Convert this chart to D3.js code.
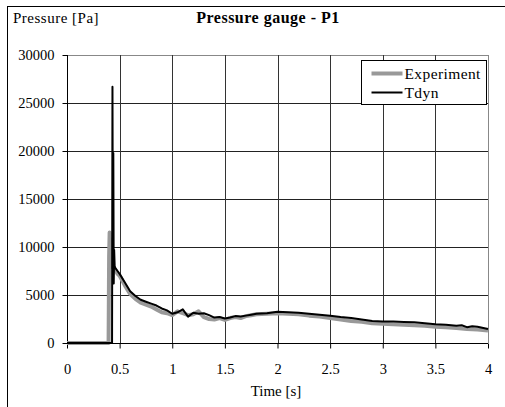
<!DOCTYPE html>
<html lang="en">
  <head>
    <meta charset="utf-8">
    <title>Pressure gauge - P1</title>
    <script type="text/javascript" src="https://cdn.jsdelivr.net/npm/d3@7/dist/d3.min.js"></script>
    <style>
      body { margin: 0; background: #fff; }
      text { font-family: 'Liberation Serif', 'Times New Roman', serif; fill: #000; }
    </style>
  </head>

  <body>
    <script>
      // tick values
      var xTicks = [0, 0.5, 1, 1.5, 2, 2.5, 3, 3.5, 4]
      var yTicks = [0, 5000, 10000, 15000, 20000, 25000, 30000]

      // Experiment series (time [s], pressure [Pa])
      var expTime = [0, 0.395, 0.4, 0.405, 0.41, 0.415, 0.42, 0.43, 0.44, 0.46, 0.48, 0.5, 0.55, 0.6, 0.65, 0.7, 0.75, 0.8, 0.85, 0.9, 0.95,
                     1.0, 1.05, 1.1, 1.15, 1.2, 1.25, 1.3, 1.35, 1.4, 1.45, 1.5, 1.55, 1.6, 1.65, 1.7, 1.75, 1.8, 1.9, 2.0,
                     2.1, 2.2, 2.3, 2.4, 2.5, 2.6, 2.7, 2.8, 2.9, 3.0, 3.1, 3.2, 3.3, 3.4, 3.5, 3.6, 3.7, 3.8, 3.9, 4.0]
      var expValue = [0, 0, 9000, 11500, 9300, 10800, 8500, 8000, 7800, 7600, 7200, 7000, 6000, 5100, 4600, 4200, 4000, 3800, 3500, 3200, 3100,
                      2900, 3300, 3100, 2900, 3000, 3300, 2700, 2500, 2450, 2600, 2400, 2600, 2700, 2600, 2800, 2900, 3000, 3050, 3100,
                      3050, 3000, 2850, 2750, 2600, 2450, 2300, 2200, 2050, 2000, 1950, 1900, 1850, 1800, 1700, 1650, 1550, 1450, 1400, 1300]

      // Tdyn series
      var tdynTime = [0, 0.428, 0.432, 0.436, 0.44, 0.444, 0.448, 0.453, 0.46, 0.48, 0.5, 0.55, 0.6, 0.65, 0.7, 0.75, 0.8, 0.85, 0.9, 0.95,
                      1.0, 1.05, 1.1, 1.15, 1.2, 1.25, 1.3, 1.35, 1.4, 1.45, 1.5, 1.55, 1.6, 1.65, 1.7, 1.75, 1.8, 1.9, 2.0,
                      2.1, 2.2, 2.3, 2.4, 2.5, 2.6, 2.7, 2.8, 2.9, 3.0, 3.1, 3.2, 3.3, 3.4, 3.5, 3.6, 3.7, 3.75, 3.8, 3.85, 3.9, 4.0]
      var tdynValue = [0, 0, 26700, 7000, 19800, 6200, 9700, 8000, 7800, 7500, 7200, 6300, 5400, 4900, 4500, 4300, 4100, 3900, 3600, 3400,
                       3050, 3200, 3500, 2750, 3150, 3050, 3100, 2900, 2650, 2700, 2550, 2650, 2800, 2750, 2850, 2950, 3050, 3100, 3250,
                       3200, 3150, 3050, 2950, 2850, 2700, 2600, 2450, 2300, 2250, 2250, 2200, 2150, 2050, 1950, 1900, 1800, 1850, 1650, 1750, 1700, 1450]

      var width = 505, height = 407
      var plotL = 67, plotR = 488, plotT = 55, plotB = 343

      var svg = d3.select('body').append('svg').attr('width', width).attr('height', height)

      // outer chart frame
      svg.append('rect')
        .attr('x', 7.5).attr('y', 6.5)
        .attr('width', 520).attr('height', 420)
        .attr('fill', 'none').attr('stroke', '#000').attr('stroke-width', 1)

      var x = d3.scaleLinear().domain([0, 4]).range([plotL, plotR])
      var y = d3.scaleLinear().domain([0, 30000]).range([plotB, plotT])

      // grid
      var grid = svg.append('g')
      grid.selectAll('line.h').data(yTicks.slice(1)).enter().append('line')
        .attr('x1', plotL).attr('x2', plotR)
        .attr('y1', function(d) { return Math.round(y(d)) + 0.5 })
        .attr('y2', function(d) { return Math.round(y(d)) + 0.5 })
        .attr('stroke', function(d) { return d == 30000 ? '#888' : '#222' })
      grid.selectAll('line.v').data(xTicks.slice(1)).enter().append('line')
        .attr('y1', plotT).attr('y2', plotB)
        .attr('x1', function(d) { return Math.round(x(d)) + 0.5 })
        .attr('x2', function(d) { return Math.round(x(d)) + 0.5 })
        .attr('stroke', function(d) { return d == 4 ? '#888' : '#333' })

      // axes
      var xAxis = d3.axisBottom(x).tickValues(xTicks).tickSize(5).tickPadding(15)
        .tickFormat(function(d) { return d })
      var yAxis = d3.axisLeft(y).tickValues(yTicks).tickSize(5).tickPadding(8)
        .tickFormat(function(d) { return d })

      var gx = svg.append('g').attr('transform', 'translate(0,' + (plotB + 0.5) + ')').call(xAxis)
      var gy = svg.append('g').attr('transform', 'translate(' + (plotL + 0.5) + ',0)').call(yAxis)
      gx.select('.domain').attr('d', 'M' + plotL + ',0H' + plotR)
      gy.select('.domain').attr('d', 'M0,' + plotB + 'V' + plotT)
      ;[gx, gy].forEach(function(g) {
        g.select('.domain').attr('stroke', '#000')
        g.selectAll('.tick line').attr('stroke', '#000')
        g.selectAll('.tick text').attr('font-family', 'Liberation Serif').attr('font-size', 14.5).attr('fill', '#000')
      })

      // series
      var line = d3.line()
        .x(function(d) { return x(d[0]) })
        .y(function(d) { return y(d[1]) })

      var expData = d3.zip(expTime, expValue)
      var tdynData = d3.zip(tdynTime, tdynValue)

      svg.append('path').datum(expData)
        .attr('d', line).attr('fill', 'none')
        .attr('stroke', '#999').attr('stroke-width', 4).attr('stroke-linejoin', 'round')
      svg.append('path').datum(tdynData)
        .attr('d', line).attr('fill', 'none')
        .attr('stroke', '#000').attr('stroke-width', 2).attr('stroke-linejoin', 'round')

      // titles
      svg.append('text').attr('x', 13).attr('y', 23).attr('font-size', 15)
        .attr('letter-spacing', 0.5).text('Pressure [Pa]')
      svg.append('text').attr('x', 268).attr('y', 23).attr('font-size', 16).attr('font-weight', 'bold')
        .attr('letter-spacing', 0.5).attr('text-anchor', 'middle').text('Pressure gauge - P1')
      svg.append('text').attr('x', 276).attr('y', 396).attr('font-size', 15)
        .attr('text-anchor', 'middle').text('Time [s]')

      // legend
      var legend = svg.append('g').attr('transform', 'translate(361.5,60.5)')
      legend.append('rect').attr('width', 125).attr('height', 44).attr('fill', '#fff').attr('stroke', '#000')
      var entries = [['Experiment', '#999', 4], ['Tdyn', '#000', 2]]
      var row = legend.selectAll('g').data(entries).enter().append('g')
        .attr('transform', function(d, i) { return 'translate(0,' + (13 + i * 19) + ')' })
      row.append('line').attr('x1', 10).attr('x2', 41)
        .attr('stroke', function(d) { return d[1] }).attr('stroke-width', function(d) { return d[2] })
      row.append('text').attr('x', 43).attr('y', 5).attr('font-size', 15.5).attr('letter-spacing', 0.4)
        .text(function(d) { return d[0] })
    </script>
  </body>
</html>
